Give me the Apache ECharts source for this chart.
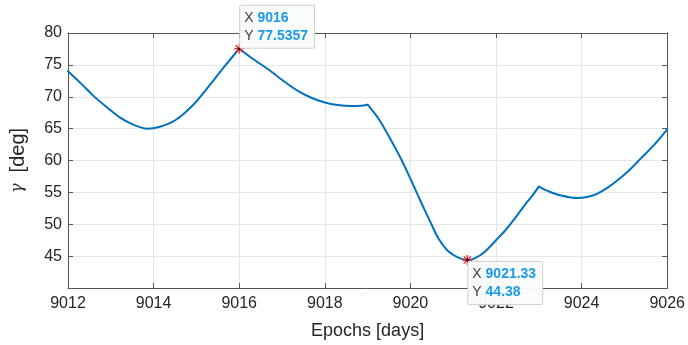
<!DOCTYPE html>
<html>
<head>
<meta charset="utf-8">
<script src="https://cdn.jsdelivr.net/npm/echarts@6/dist/echarts.min.js"></script>
<style>
  html, body { margin: 0; padding: 0; background: #fff; }
  #chart { width: 688px; height: 345px; }
</style>
</head>
<body>
<div id="chart"></div>
<script>
// Sun-angle gamma over the epoch window
const epochs = [9012.0, 9012.3, 9012.6, 9012.9, 9013.2, 9013.5, 9013.85, 9014.15, 9014.45, 9014.7,
  9014.95, 9015.2, 9015.45, 9015.7, 9016.0, 9016.35, 9016.7, 9017.05, 9017.4, 9017.7,
  9018.0, 9018.3, 9018.6, 9018.85, 9019.0, 9019.26, 9019.57, 9019.8, 9020.03, 9020.26,
  9020.46, 9020.65, 9020.88, 9021.12, 9021.33, 9021.5, 9021.74, 9022.0, 9022.2, 9022.45,
  9022.67, 9022.85, 9023.0, 9023.25, 9023.52, 9023.9, 9024.15, 9024.37, 9024.6, 9024.84,
  9025.1, 9025.38, 9025.7, 9026.0];
const gamma = [74.0, 72.1, 70.1, 68.4, 66.8, 65.7, 65.0, 65.3, 66.1, 67.3,
  68.9, 70.9, 73.0, 75.1, 77.5357, 75.8, 74.2, 72.4, 70.8, 69.8,
  69.1, 68.7, 68.55, 68.6, 68.75, 66.5, 62.9, 60.0, 56.7, 53.3,
  50.45, 47.85, 45.8, 44.75, 44.38, 44.65, 45.7, 47.5, 48.9, 51.0,
  53.0, 54.5, 55.9, 55.1, 54.5, 54.1, 54.3, 54.8, 55.7, 56.9,
  58.4, 60.3, 62.5, 64.9];

// Epochs where the curve has a corner (manoeuvre/eclipse boundaries)
const cornerEpochs = [9016.0, 9019.0, 9023.0];

// Data tips
const tipEpochs = [9016, 9021.33];
const tipGamma = [77.5357, 44.38];
const tipPlacement = ['above', 'below'];

const xTicks = [9012, 9014, 9016, 9018, 9020, 9022, 9024, 9026];
const yTicks = [45, 50, 55, 60, 65, 70, 75, 80];

const FONT = '"Liberation Sans", Arial, Helvetica, sans-serif';
const AXIS_COLOR = '#555555';
const TEXT_COLOR = '#262626';
const GRID_COLOR = '#e6e6e6';
const LINE_COLOR = '#0072BD';

const chart = echarts.init(document.getElementById('chart'), null, { renderer: 'canvas' });

// Split the curve at its corners so smoothing keeps the corners sharp
const pieces = [];
let cur = [];
epochs.forEach((e, i) => {
  cur.push([e, gamma[i]]);
  if (cornerEpochs.indexOf(e) >= 0) {
    pieces.push(cur);
    cur = [[e, gamma[i]]];
  }
});
pieces.push(cur);

const tipData = tipEpochs.map((e, i) => [e, tipGamma[i], i]);

function renderTip(params, api) {
  const idx = api.value(2);
  const p = api.coord([api.value(0), api.value(1)]);
  const r = 5;
  const children = [];
  // asterisk marker
  for (let k = 0; k < 4; k++) {
    const a = k * Math.PI / 4;
    children.push({
      type: 'line',
      shape: { x1: p[0] - r * Math.cos(a), y1: p[1] - r * Math.sin(a),
               x2: p[0] + r * Math.cos(a), y2: p[1] + r * Math.sin(a) },
      style: { stroke: '#e8262b', lineWidth: 1.3 },
      z2: 10
    });
  }
  children.push({
    type: 'circle', shape: { cx: p[0], cy: p[1], r: 1.3 },
    style: { fill: '#111' }, z2: 11
  });
  const above = tipPlacement[idx] === 'above';
  children.push({
    type: 'text',
    x: p[0] + 1,
    y: above ? p[1] - 1 : p[1] + 2,
    style: {
      text: '{k|X }{v|' + tipEpochs[idx] + '}\n{k|Y }{v|' + tipGamma[idx] + '}',
      verticalAlign: above ? 'bottom' : 'top',
      align: 'left',
      backgroundColor: 'rgba(250,251,253,0.96)',
      borderColor: '#cdd2d8',
      borderWidth: 1,
      borderRadius: 1,
      padding: [3, 6, 3, 4],
      rich: {
        k: { fontFamily: FONT, fontSize: 14, fill: '#404040', lineHeight: 18 },
        v: { fontFamily: FONT, fontSize: 14, fontWeight: 'bold', fill: '#1a9be6', lineHeight: 18 }
      }
    },
    z2: 20
  });
  return { type: 'group', children };
}

const lineSeries = pieces.map(d => ({
  type: 'line',
  data: d,
  xAxisIndex: 0, yAxisIndex: 0,
  showSymbol: false,
  smooth: 0.3,
  lineStyle: { color: LINE_COLOR, width: 2, cap: 'round', join: 'round' },
  z: 3
}));

const option = {
  backgroundColor: '#ffffff',
  animation: false,
  grid: { left: 68, right: 18, top: 33, bottom: 55, containLabel: false },
  xAxis: [{
    type: 'value', min: 9012, max: 9026, interval: 2,
    name: 'Epochs [days]', nameLocation: 'middle', nameGap: 34,
    nameTextStyle: { fontFamily: FONT, fontSize: 18, color: TEXT_COLOR },
    axisLine: { show: true, onZero: false, lineStyle: { color: AXIS_COLOR, width: 1 } },
    axisTick: { show: true, inside: true, length: 5, lineStyle: { color: AXIS_COLOR } },
    axisLabel: { fontFamily: FONT, fontSize: 16, color: TEXT_COLOR, margin: 8,
      formatter: v => (xTicks.indexOf(v) >= 0 ? String(v) : '') },
    splitLine: { show: true, lineStyle: { color: GRID_COLOR, width: 1 } }
  }, {
    type: 'value', position: 'top', min: 9012, max: 9026, interval: 2,
    axisLine: { show: true, onZero: false, lineStyle: { color: AXIS_COLOR, width: 1 } },
    axisTick: { show: true, inside: true, length: 5, lineStyle: { color: AXIS_COLOR } },
    axisLabel: { show: false }, splitLine: { show: false }
  }],
  yAxis: [{
    type: 'value', min: 40, max: 80, interval: 5,
    name: '{g|γ}  [deg]', nameLocation: 'middle', nameGap: 40, nameRotate: 90,
    nameTextStyle: { fontFamily: FONT, fontSize: 20, color: TEXT_COLOR,
      rich: { g: { fontFamily: '"DejaVu Serif", serif', fontStyle: 'italic', fontSize: 16, color: TEXT_COLOR } } },
    axisLine: { show: true, onZero: false, lineStyle: { color: AXIS_COLOR, width: 1 } },
    axisTick: { show: true, inside: true, length: 5, lineStyle: { color: AXIS_COLOR } },
    axisLabel: { fontFamily: FONT, fontSize: 16, color: TEXT_COLOR, margin: 6,
      formatter: v => (yTicks.indexOf(v) >= 0 ? String(v) : '') },
    splitLine: { show: true, lineStyle: { color: GRID_COLOR, width: 1 } }
  }, {
    type: 'value', position: 'right', min: 40, max: 80, interval: 5,
    axisLine: { show: true, onZero: false, lineStyle: { color: AXIS_COLOR, width: 1 } },
    axisTick: { show: true, inside: true, length: 5, lineStyle: { color: AXIS_COLOR } },
    axisLabel: { show: false }, splitLine: { show: false }
  }],
  series: lineSeries.concat([{
    type: 'custom',
    data: tipData,
    xAxisIndex: 0, yAxisIndex: 0,
    renderItem: renderTip,
    clip: false,
    z: 10
  }])
};

chart.setOption(option);
</script>
</body>
</html>
